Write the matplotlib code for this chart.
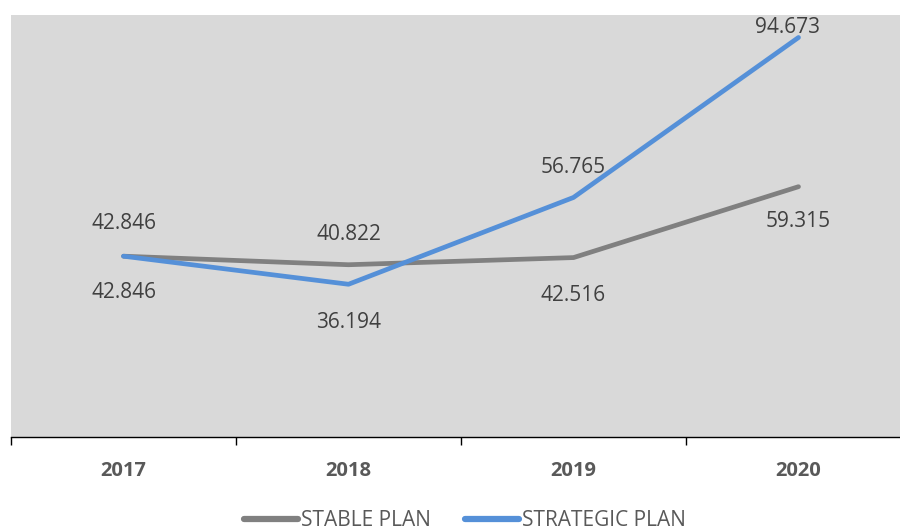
import matplotlib.pyplot as plt
from matplotlib.lines import Line2D

years = ["2017", "2018", "2019", "2020"]
stable_plan = [42.846, 40.822, 42.516, 59.315]
strategic_plan = [42.846, 36.194, 56.765, 94.673]

# label offsets in pixels (below = negative)
stable_offsets = [(0, -36), (0, 30), (0, -38), (0, -35)]
strategic_offsets = [(0, 33), (0, -38), (0, 30), (-11, 10)]

plt.rcParams['font.family'] = ['Open Sans', 'DejaVu Sans']

fig = plt.figure(figsize=(9, 5.31), dpi=100)
ax = fig.add_axes([11 / 900, 94 / 531, 889 / 900, 422 / 531])
ax.set_facecolor("#d9d9d9")

x = list(range(len(years)))
ax.plot(x, stable_plan, color="#808080", lw=3.4, solid_capstyle="round", label="STABLE PLAN")
ax.plot(x, strategic_plan, color="#5590d8", lw=3.4, solid_capstyle="round", label="STRATEGIC PLAN")

for i in x:
    ax.annotate(f"{stable_plan[i]:.3f}", (i, stable_plan[i]), xytext=stable_offsets[i],
                textcoords="offset pixels", ha="center", va="center", fontsize=15, color="#404040")
    ax.annotate(f"{strategic_plan[i]:.3f}", (i, strategic_plan[i]), xytext=strategic_offsets[i],
                textcoords="offset pixels", ha="center", va="center", fontsize=15, color="#404040")

ax.set_yticks([])
ax.set_xticks(x)
ax.set_xticklabels(years, fontsize=14.5, fontweight="bold", color="#595959")
ax.set_xticks([-0.5, 0.5, 1.5, 2.5, 3.5], minor=True)
ax.tick_params(axis="x", which="major", length=0, pad=17)
ax.tick_params(axis="x", which="minor", length=6, width=1, color="black", direction="out")
ax.set_xlim(-0.5, -0.5 + 889 / 225)
ax.set_ylim(0, 100)

for s in ["top", "right", "left"]:
    ax.spines[s].set_visible(False)
ax.spines["bottom"].set_color("black")
ax.spines["bottom"].set_linewidth(1)

handles = [Line2D([], [], color="#808080", lw=4.5, solid_capstyle="round"),
           Line2D([], [], color="#5590d8", lw=4.5, solid_capstyle="round")]
fig.legend(handles, ["STABLE PLAN", "STRATEGIC PLAN"], loc="center", bbox_to_anchor=(465 / 900, 10 / 531),
           ncol=2, frameon=False, fontsize=15, labelcolor="#595959", handlelength=2.6,
           handletextpad=0.15, columnspacing=1.6, borderpad=0, borderaxespad=0)

fig.savefig("out.png", dpi=100)
